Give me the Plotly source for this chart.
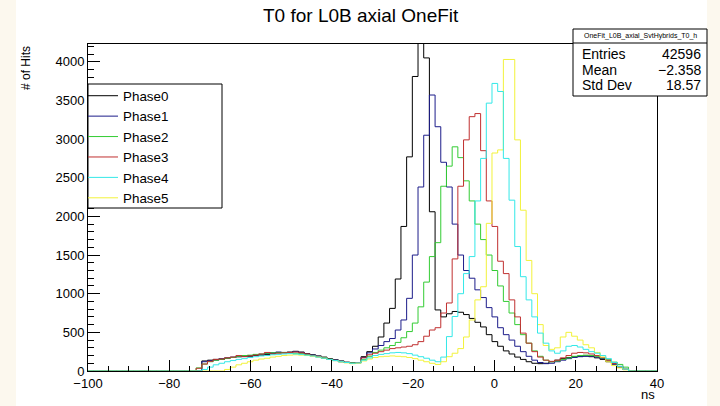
import numpy as np
import plotly.graph_objects as go

# ---------------- data ----------------
X_MIN, X_MAX, N_BINS = -100.0, 40.0, 100
FIRST_BIN = 19  # index of first listed bin

phase0 = [0, 130, 140, 150, 150, 165, 175, 185, 195, 190, 200, 205, 215, 230, 240, 235, 245, 255, 245, 225,
          210, 195, 180, 160, 145, 130, 115, 105, 110, 185, 250, 320, 440, 620, 810, 1190, 1870, 2770, 3810, 4450,
          4050, 2060, 790, 700, 740, 770, 760, 730, 680, 630, 570, 470, 380, 320, 260, 220, 180, 150, 120, 100,
          95, 100, 120, 140, 160, 175, 185, 190, 195, 185, 170, 150, 120, 90, 50, 20, 0]
phase1 = [0, 120, 135, 140, 160, 170, 180, 185, 190, 200, 210, 215, 225, 235, 245, 240, 240, 250, 240, 220,
          205, 190, 170, 150, 140, 125, 110, 100, 105, 175, 235, 285, 330, 380, 420, 530, 660, 940, 1500, 2380,
          3050, 3570, 3160, 2700, 2380, 1900, 1500, 1300, 1200, 1050, 950, 820, 700, 560, 470, 400, 320, 250, 190, 140,
          110, 95, 100, 120, 140, 160, 175, 185, 190, 190, 180, 160, 130, 90, 55, 20, 0]
phase2 = [40, 90, 120, 140, 150, 165, 175, 190, 200, 205, 215, 220, 230, 235, 235, 240, 235, 230, 225, 215,
          200, 185, 170, 150, 135, 120, 110, 105, 110, 150, 190, 240, 270, 300, 330, 370, 430, 510, 620, 830,
          1150, 1480, 1660, 2390, 2650, 2900, 2760, 2460, 2200, 1900, 1700, 1500, 1300, 1100, 900, 750, 600, 470, 360, 260,
          190, 140, 120, 130, 150, 170, 190, 200, 205, 200, 190, 170, 145, 115, 85, 50, 0]
phase3 = [35, 90, 125, 150, 155, 170, 180, 200, 185, 195, 205, 220, 240, 220, 230, 235, 240, 245, 235, 220,
          200, 185, 165, 150, 135, 120, 110, 100, 110, 170, 210, 230, 250, 270, 290, 300, 310, 320, 340, 380,
          450, 530, 560, 750, 880, 1450, 2390, 2990, 3290, 3330, 2850, 2200, 1870, 1420, 1260, 920, 700, 490, 360, 250,
          180, 140, 125, 140, 170, 200, 230, 240, 235, 220, 200, 175, 140, 100, 60, 25, 0]
phase4 = [0, 20, 50, 80, 100, 120, 135, 150, 160, 175, 185, 195, 200, 210, 215, 220, 225, 220, 215, 205,
          195, 180, 165, 150, 135, 120, 110, 100, 105, 140, 170, 200, 215, 225, 235, 240, 235, 225, 205, 185,
          165, 140, 120, 180, 445, 705, 1000, 1260, 1480, 2200, 2750, 3465, 3720, 3616, 2750, 2210, 1610, 1220, 920, 700,
          490, 360, 260, 230, 260, 320, 330, 310, 280, 250, 230, 200, 160, 110, 60, 25, 0]
phase5 = [0, 0, 0, 0, 0, 20, 50, 80, 100, 120, 140, 155, 165, 180, 190, 200, 205, 210, 205, 200,
          190, 180, 165, 150, 135, 120, 105, 95, 100, 130, 155, 175, 185, 190, 195, 190, 185, 175, 160, 140,
          120, 100, 85, 120, 185, 230, 290, 440, 660, 920, 1090, 1910, 2820, 2860, 4030, 4030, 2990, 2080, 1430, 1000,
          600, 330, 280, 300, 440, 500, 450, 400, 340, 300, 240, 180, 120, 70, 40, 15, 0]

series_names = ["Phase0", "Phase1", "Phase2", "Phase3", "Phase4", "Phase5"]
series_values = [phase0, phase1, phase2, phase3, phase4, phase5]
series_colors = ["#000000", "#1c1c8a", "#33cc33", "#c03030", "#33e8e8", "#f2f23a"]

stat_title = "OneFit_L0B_axial_SvtHybrids_T0_h"
stat_labels = ["Entries", "Mean", "Std Dev"]
stat_values = ["42596", "\u22122.358", "18.57"]

title_text = "T0 for L0B axial OneFit"
x_title = "ns"
y_title = "# of Hits"

# ---------------- figure ----------------
W, H = 720, 406
L, R, T, B = 88, 63, 44, 35
FONT = "Liberation Sans, Arial, Helvetica, sans-serif"

edges = np.linspace(X_MIN, X_MAX, N_BINS + 1)

def full_counts(vals):
    c = np.zeros(N_BINS)
    c[FIRST_BIN:FIRST_BIN + len(vals)] = vals
    return c

fig = go.Figure()
draw_order = [0, 1, 2, 3, 5, 4]
for i in draw_order:
    c = full_counts(series_values[i])
    y = np.append(c, 0.0)
    fig.add_trace(go.Scatter(
        x=edges, y=y, mode="lines", line=dict(shape="hv", color=series_colors[i], width=1),
        name=series_names[i], legendrank=i + 1, hoverinfo="skip"))

pw = W - L - R
ph = H - T - B
def px2x(px):
    return (px - L) / pw
def py2y(py):
    return 1 - (py - T) / ph

shapes = [
    dict(type="rect", xref="paper", yref="paper", x0=px2x(16), x1=px2x(707), y0=py2y(H), y1=py2y(0),
         fillcolor="white", line=dict(width=0), layer="below"),
    dict(type="rect", xref="paper", yref="paper", x0=px2x(88), x1=px2x(222), y0=py2y(208), y1=py2y(84),
         fillcolor="white", line=dict(color="black", width=1), layer="above"),
    dict(type="rect", xref="paper", yref="paper", x0=px2x(573), x1=px2x(707), y0=py2y(96), y1=py2y(29),
         fillcolor="white", line=dict(color="black", width=1), layer="above"),
    dict(type="line", xref="paper", yref="paper", x0=px2x(573), x1=px2x(707), y0=py2y(43), y1=py2y(43),
         line=dict(color="black", width=1), layer="above"),
]

ann = [
    dict(text=title_text, x=px2x(361), y=py2y(15), xref="paper", yref="paper", showarrow=False,
         font=dict(size=19, family=FONT, color="black"), xanchor="center", yanchor="middle"),
    dict(text=x_title, x=1, y=py2y(394), xref="paper", yref="paper", showarrow=False,
         font=dict(size=13, family=FONT, color="black"), xanchor="right", yanchor="middle"),
    dict(text=y_title, x=px2x(26), y=py2y(44), xref="paper", yref="paper", showarrow=False, textangle=-90,
         font=dict(size=12, family=FONT, color="black"), xanchor="center", yanchor="top"),
    dict(text=stat_title, x=px2x(640), y=py2y(36), xref="paper", yref="paper", showarrow=False,
         font=dict(size=7, family=FONT, color="black"), xanchor="center", yanchor="middle"),
]
row_y = [54, 70, 85]
for lab, val, ry in zip(stat_labels, stat_values, row_y):
    ann.append(dict(text=lab, x=px2x(580), y=py2y(ry), xref="paper", yref="paper", showarrow=False,
                    font=dict(size=14, family=FONT, color="black"), xanchor="left", yanchor="middle"))
    ann.append(dict(text=val, x=px2x(703), y=py2y(ry), xref="paper", yref="paper", showarrow=False,
                    font=dict(size=14, family=FONT, color="black"), xanchor="right", yanchor="middle"))

fig.update_layout(
    width=W, height=H, autosize=False,
    margin=dict(l=L, r=R, t=T, b=B, pad=0),
    paper_bgcolor="#fcf8ee", plot_bgcolor="white",
    font=dict(family=FONT, size=13, color="black"),
    showlegend=True,
    legend=dict(x=px2x(83), y=py2y(80.5), xanchor="left", yanchor="top", bgcolor="rgba(0,0,0,0)",
                borderwidth=0, font=dict(size=13.4, family=FONT, color="black"),
                tracegroupgap=0, itemwidth=30),
    shapes=shapes, annotations=ann,
    xaxis=dict(range=[X_MIN, X_MAX], dtick=20, tick0=-100, ticks="inside", ticklen=11, tickwidth=1,
               tickcolor="black", showline=True, linecolor="black", linewidth=1, mirror=True,
               showgrid=False, zeroline=False, tickfont=dict(size=13),
               minor=dict(dtick=5, ticks="inside", ticklen=5, tickcolor="black", showgrid=False)),
    yaxis=dict(range=[0, 4230], dtick=500, tick0=0, ticks="inside", ticklen=12, tickwidth=1,
               tickcolor="black", showline=True, linecolor="black", linewidth=1, mirror=True,
               showgrid=False, zeroline=False, tickfont=dict(size=13),
               minor=dict(dtick=100, ticks="inside", ticklen=6, tickcolor="black", showgrid=False)),
)

fig.write_html("out.html", config={"displayModeBar": False},
               post_script="document.body.style.margin='0px';document.body.style.padding='0px';")
